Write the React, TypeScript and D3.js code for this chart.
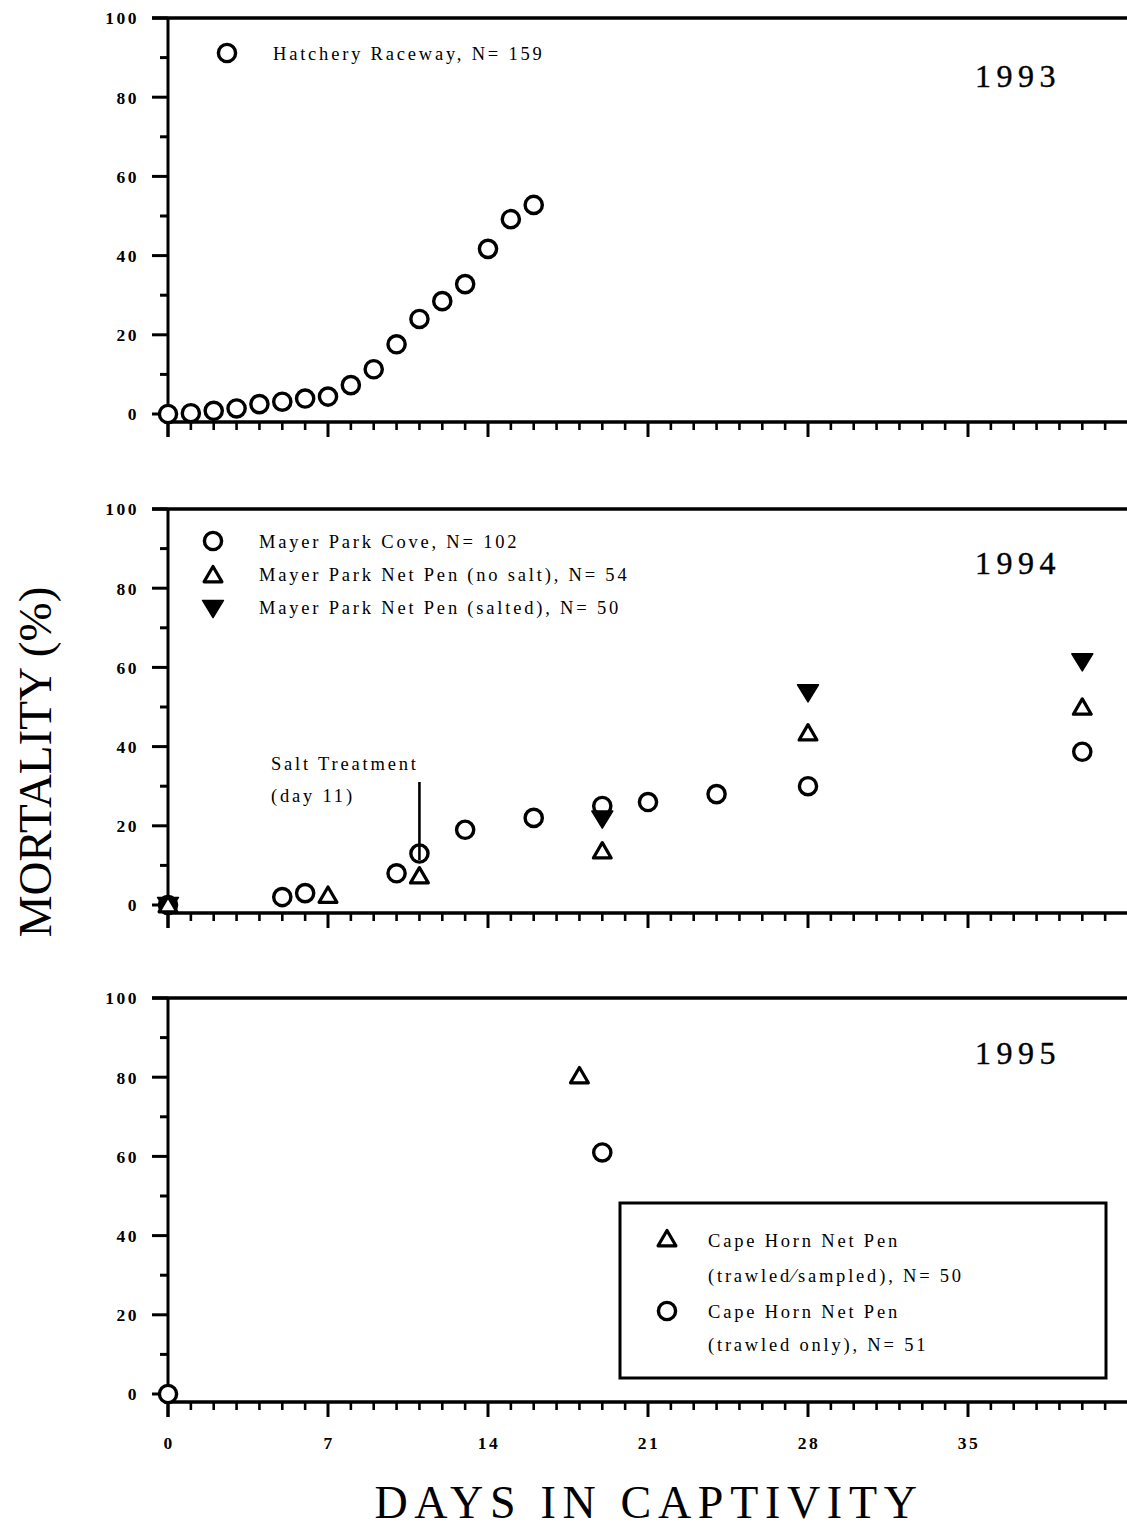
import React from "react";
import * as d3 from "d3";

const W = 1127;
const H = 1529;

// 1993 Hatchery Raceway
const days93 = [0, 1, 2, 3, 4, 5, 6, 7, 8, 9, 10, 11, 12, 13, 14, 15, 16];
const mort93 = [0, 0.2, 0.8, 1.4, 2.5, 3.1, 3.9, 4.4, 7.3, 11.3, 17.6, 24, 28.5, 32.8, 41.7, 49.2, 52.8];

// 1994
const daysCove = [0, 5, 6, 10, 11, 13, 16, 19, 21, 24, 28, 40];
const mortCove = [0, 2, 3, 8, 13, 19, 22, 25, 26, 28, 30, 38.7];
const daysNoSalt = [0, 7, 11, 19, 28, 40];
const mortNoSalt = [0, 2.4, 7.3, 13.6, 43.4, 49.9];
const daysSalted = [0, 19, 28, 40];
const mortSalted = [0, 21.8, 53.7, 61.5];

// 1995
const daysTrawlSampled = [18];
const mortTrawlSampled = [80.3];
const daysTrawlOnly = [0, 19];
const mortTrawlOnly = [0, 61];

const yTicks = [0, 20, 40, 60, 80, 100];
const xTickLabels = [0, 7, 14, 21, 28, 35];

const panelTops = [18, 509, 998];
const PANEL_H = 396;
const X0 = 168;

const x = d3.scaleLinear().domain([0, 42]).range([X0, X0 + 42 * (160 / 7)]);

const tickFont = "'Liberation Serif', 'DejaVu Serif', serif";
const textFont = "'Liberation Serif', 'DejaVu Serif', serif";

function Circle({ cx, cy }: { cx: number; cy: number }) {
  return <circle cx={cx} cy={cy} r={8.6} fill="white" stroke="black" strokeWidth={3.4} />;
}
function TriUp({ cx, cy }: { cx: number; cy: number }) {
  const p = d3.path();
  const s = 8.5;
  p.moveTo(cx, cy - s);
  p.lineTo(cx + s * 1.05, cy + s * 0.8);
  p.lineTo(cx - s * 1.05, cy + s * 0.8);
  p.closePath();
  return <path d={p.toString()} fill="white" stroke="black" strokeWidth={3.2} strokeLinejoin="round" />;
}
function TriDown({ cx, cy }: { cx: number; cy: number }) {
  const p = d3.path();
  const s = 9.5;
  p.moveTo(cx - s * 1.1, cy - s * 0.8);
  p.lineTo(cx + s * 1.1, cy - s * 0.8);
  p.lineTo(cx, cy + s);
  p.closePath();
  return <path d={p.toString()} fill="black" stroke="black" strokeWidth={1.5} strokeLinejoin="round" />;
}

function Axes({ top, showXLabels }: { top: number; showXLabels: boolean }) {
  const y = d3.scaleLinear().domain([0, 100]).range([top + PANEL_H, top]);
  const axisY = top + PANEL_H + 8;
  const minorY = d3.range(0, 101, 10);
  const xt = d3.range(0, 42, 1);
  return (
    <g>
      <line x1={152} x2={W} y1={top} y2={top} stroke="black" strokeWidth={3.4} />
      <line x1={X0} x2={X0} y1={top} y2={axisY + 15} stroke="black" strokeWidth={3} />
      <line x1={X0} x2={W} y1={axisY} y2={axisY} stroke="black" strokeWidth={3.4} />
      {minorY.map((v) => (
        <line key={"yt" + v} x1={v % 20 === 0 ? 152 : 160} x2={X0} y1={y(v)} y2={y(v)} stroke="black" strokeWidth={3} />
      ))}
      {yTicks.map((v) => (
        <text key={"yl" + v} x={139} y={y(v)} dy="0.36em" textAnchor="end" fontFamily={tickFont} fontWeight="bold" fontSize={17.5} letterSpacing={2.5}>
          {v}
        </text>
      ))}
      {xt.map((d) => (
        <line key={"xt" + d} x1={x(d)} x2={x(d)} y1={axisY} y2={axisY + (d % 7 === 0 ? 15 : 8)} stroke="black" strokeWidth={d % 7 === 0 ? 3 : 2.6} />
      ))}
      {showXLabels &&
        xTickLabels.map((d) => (
          <text key={"xl" + d} x={x(d) + 1} y={axisY + 47} textAnchor="middle" fontFamily={tickFont} fontWeight="bold" fontSize={17.5} letterSpacing={2.5}>
            {d}
          </text>
        ))}
    </g>
  );
}

export default function App() {
  const y1 = d3.scaleLinear().domain([0, 100]).range([panelTops[0] + PANEL_H, panelTops[0]]);
  const y2 = d3.scaleLinear().domain([0, 100]).range([panelTops[1] + PANEL_H, panelTops[1]]);
  const y3 = d3.scaleLinear().domain([0, 100]).range([panelTops[2] + PANEL_H, panelTops[2]]);
  const legendStyle = { fontFamily: textFont, fontSize: 18.5, letterSpacing: 2.8 } as const;
  const yearStyle = { fontFamily: textFont, fontSize: 32, letterSpacing: 5.5, stroke: "black", strokeWidth: 0.4 } as const;
  return (
    <svg width={W} height={H} style={{ position: "absolute", left: 0, top: 0, background: "white" }}>
      <rect x={0} y={0} width={W} height={H} fill="white" />
      {/* Panel 1 */}
      <Axes top={panelTops[0]} showXLabels={false} />
      {days93.map((d, i) => (
        <Circle key={"c93" + i} cx={x(d)} cy={y1(mort93[i])} />
      ))}
      <Circle cx={227} cy={53} />
      <text x={273} y={60} {...legendStyle}>Hatchery Raceway, N= 159</text>
      <text x={975} y={87} {...yearStyle}>1993</text>

      {/* Panel 2 */}
      <Axes top={panelTops[1]} showXLabels={false} />
      {daysCove.map((d, i) => (
        <Circle key={"cv" + i} cx={x(d)} cy={y2(mortCove[i])} />
      ))}
      {daysSalted.map((d, i) => (
        <TriDown key={"sd" + i} cx={x(d)} cy={y2(mortSalted[i])} />
      ))}
      {daysNoSalt.map((d, i) => (
        <TriUp key={"ns" + i} cx={x(d)} cy={y2(mortNoSalt[i])} />
      ))}
      <line x1={x(11)} x2={x(11)} y1={782} y2={860} stroke="black" strokeWidth={2.6} />
      <text x={271} y={770} {...legendStyle}>Salt Treatment</text>
      <text x={271} y={802} {...legendStyle}>(day 11)</text>
      <Circle cx={213} cy={541} />
      <TriUp cx={213} cy={575} />
      <TriDown cx={213} cy={608} />
      <text x={259} y={548} {...legendStyle}>Mayer Park Cove, N= 102</text>
      <text x={259} y={581} {...legendStyle}>Mayer Park Net Pen (no salt), N= 54</text>
      <text x={259} y={614} {...legendStyle}>Mayer Park Net Pen (salted), N= 50</text>
      <text x={975} y={574} {...yearStyle}>1994</text>

      {/* Panel 3 */}
      <Axes top={panelTops[2]} showXLabels={true} />
      {daysTrawlSampled.map((d, i) => (
        <TriUp key={"ts" + i} cx={x(d)} cy={y3(mortTrawlSampled[i])} />
      ))}
      {daysTrawlOnly.map((d, i) => (
        <Circle key={"to" + i} cx={x(d)} cy={y3(mortTrawlOnly[i])} />
      ))}
      <text x={975} y={1064} {...yearStyle}>1995</text>
      <rect x={620} y={1203} width={486} height={175} fill="white" stroke="black" strokeWidth={3} />
      <TriUp cx={667} cy={1239} />
      <Circle cx={667} cy={1311} />
      <text x={708} y={1247} {...legendStyle}>Cape Horn Net Pen</text>
      <text x={708} y={1282} {...legendStyle}>(trawled⁄sampled), N= 50</text>
      <text x={708} y={1318} {...legendStyle}>Cape Horn Net Pen</text>
      <text x={708} y={1351} {...legendStyle}>(trawled only), N= 51</text>

      {/* Axis titles */}
      <text transform="translate(51,762) rotate(-90)" textAnchor="middle" fontFamily={textFont} fontSize={47}>
        MORTALITY (%)
      </text>
      <text x={649} y={1518} textAnchor="middle" fontFamily={textFont} fontSize={46} letterSpacing={6.7}>
        DAYS IN CAPTIVITY
      </text>
    </svg>
  );
}
